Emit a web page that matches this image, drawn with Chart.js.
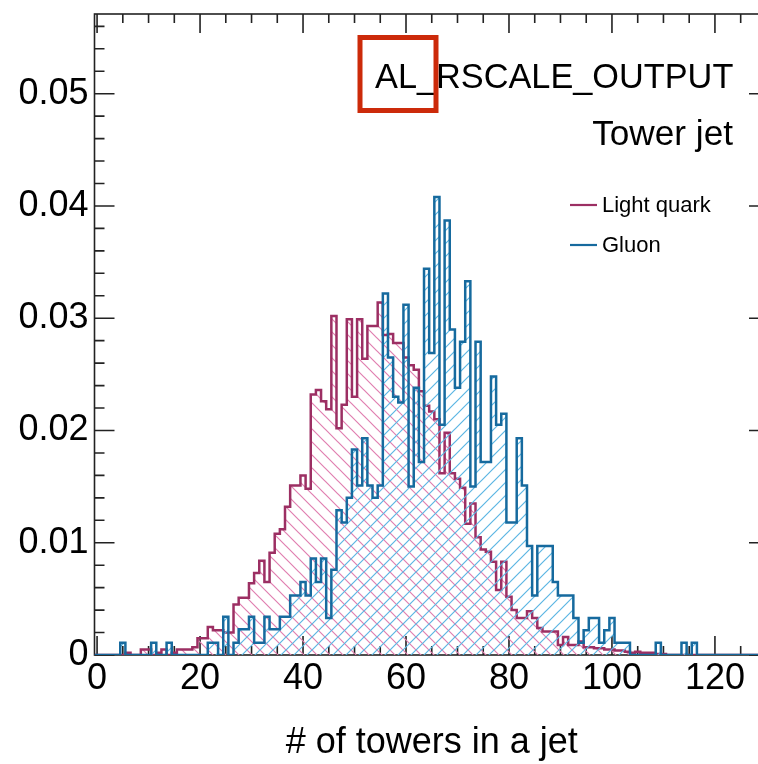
<!DOCTYPE html>
<html>
<head>
<meta charset="utf-8">
<script src="https://cdn.jsdelivr.net/npm/chart.js@4.4.1/dist/chart.umd.min.js"></script>
<style>
  html, body { margin: 0; padding: 0; background: #fff; overflow: hidden; }
  #wrap { width: 772px; height: 764px; }
</style>
</head>
<body>
<div id="wrap"><canvas id="towers" width="772" height="764"></canvas></div>
<script>
// ----- Data (one value per bin, bin k centred on k towers) -----
const lightQuark = [
  0, 0, 0, 0, 0, 0, 0.0002, 0, 0, 0.0005,
  0.0005, 0, 0.0002, 0.0005, 0, 0.0002, 0.0005, 0.0005, 0.0005, 0.0007,
  0.0015, 0.0015, 0.0025, 0.0022, 0.0022, 0.0020, 0.0020, 0.0045, 0.0051, 0.0051,
  0.0064, 0.0073, 0.0084, 0.0065, 0.0091, 0.0108, 0.0112, 0.0132, 0.0151, 0.0151,
  0.0160, 0.0148, 0.0232, 0.0236, 0.0226, 0.0219, 0.0302, 0.0202, 0.0223, 0.0299,
  0.0230, 0.0299, 0.0264, 0.0293, 0.0293, 0.0314, 0.0285, 0.0286, 0.0278, 0.0278,
  0.0265, 0.0258, 0.0254, 0.0235, 0.0222, 0.0217, 0.0210, 0.0162, 0.0198, 0.0162,
  0.0157, 0.0149, 0.0117, 0.0135, 0.0105, 0.0094, 0.0092, 0.0083, 0.0058, 0.0083,
  0.0052, 0.0040, 0.0033, 0.0033, 0.0039, 0.0033, 0.0024, 0.0021, 0.0021, 0.0021,
  0.0009, 0.0016, 0.0009, 0.0009, 0.0012, 0.0007, 0.0007, 0.0006, 0.0006, 0.0005,
  0.0005, 0.0004, 0.0004, 0.0003, 0.0002, 0.0003, 0.0002, 0.0002, 0.0002, 0.0001,
  0.0001, 0, 0, 0, 0, 0, 0, 0, 0, 0,
  0, 0, 0, 0, 0, 0, 0, 0, 0, 0,
  0
];
const gluon = [
  0, 0, 0, 0, 0, 0.0011, 0, 0, 0, 0,
  0, 0.0011, 0, 0, 0.0011, 0, 0, 0, 0, 0,
  0, 0, 0.0011, 0.0011, 0, 0.0034, 0, 0.0011, 0.0023, 0.0023,
  0.0034, 0.0011, 0.0011, 0.0034, 0.0023, 0.0023, 0.0034, 0.0034, 0.0053, 0.0053,
  0.0065, 0.0053, 0.0086, 0.0065, 0.0086, 0.0033, 0.0076, 0.0129, 0.0118, 0.0140,
  0.0183, 0.0151, 0.0193, 0.0151, 0.0140, 0.0151, 0.0322, 0.0265, 0.0230, 0.0225,
  0.0312, 0.0150, 0.0238, 0.0172, 0.0344, 0.0269, 0.0408, 0.0205, 0.0387, 0.0290,
  0.0238, 0.0279, 0.0333, 0.0150, 0.0279, 0.0172, 0.0172, 0.0248, 0.0205, 0.0215,
  0.0118, 0.0118, 0.0193, 0.0151, 0.0097, 0.0053, 0.0097, 0.0097, 0.0097, 0.0065,
  0.0053, 0.0053, 0.0053, 0.0033, 0.0011, 0.0022, 0.0033, 0.0033, 0.0011, 0.0022,
  0.0033, 0.0011, 0.0011, 0.0011, 0, 0, 0, 0, 0, 0.0011,
  0, 0, 0, 0, 0.0011, 0, 0.0011, 0, 0, 0,
  0, 0, 0, 0, 0, 0, 0, 0, 0, 0,
  0
];
const xTicks = [0, 20, 40, 60, 80, 100, 120];
const yTicks = [0, 0.01, 0.02, 0.03, 0.04, 0.05];

const QUARK_LINE = "#9c2f63", QUARK_HATCH = "#e07fb0";
const GLUON_LINE = "#166a9e", GLUON_HATCH = "#5cb6e3";
const FONT = "'Liberation Sans', Arial, Helvetica, sans-serif";

// ----- Helpers -----
const canvas = document.getElementById("towers");
const ctx = canvas.getContext("2d");

// diagonal hatch tile, like ROOT fill styles 3004 / 3005
function hatch(color, dir) {
  const s = 13;
  const tile = document.createElement("canvas");
  tile.width = s; tile.height = s;
  const g = tile.getContext("2d");
  g.strokeStyle = color;
  g.lineWidth = 1.2;
  g.beginPath();
  if (dir === "/") {
    g.moveTo(-2, s + 2); g.lineTo(s + 2, -2);
    g.moveTo(-2, 2); g.lineTo(2, -2);
    g.moveTo(s - 2, s + 2); g.lineTo(s + 2, s - 2);
  } else {
    g.moveTo(-2, -2); g.lineTo(s + 2, s + 2);
    g.moveTo(s - 2, -2); g.lineTo(s + 2, 2);
    g.moveTo(-2, s - 2); g.lineTo(2, s + 2);
  }
  g.stroke();
  return ctx.createPattern(tile, "repeat");
}

// bin k spans k-0.5 .. k+0.5 ; one point per left edge, stepped
const toSteps = (vals) => {
  const pts = vals.map((v, k) => ({ x: k - 0.5, y: v }));
  pts.push({ x: vals.length - 0.5, y: vals[vals.length - 1] });
  return pts;
};

// ----- Frame + inside ticks (ROOT look) -----
const frameTicks = {
  id: "frameTicks",
  beforeDatasetsDraw(chart) {
    const { ctx, chartArea: { left, right, top, bottom }, scales: { x, y } } = chart;
    ctx.save();
    ctx.strokeStyle = "#222";
    ctx.lineWidth = 1.6;
    ctx.strokeRect(left, top, right - left, bottom - top);
    ctx.beginPath();
    for (let v = 0; v <= 130; v += 5) {
      const px = x.getPixelForValue(v);
      const len = v % 20 === 0 ? 19 : 9;
      ctx.moveTo(px, bottom); ctx.lineTo(px, bottom - len);
      ctx.moveTo(px, top); ctx.lineTo(px, top + len);
    }
    for (let i = 0; i <= 28; i++) {
      const py = y.getPixelForValue(i * 0.002);
      const len = i % 5 === 0 ? 20 : 10;
      ctx.moveTo(left, py); ctx.lineTo(left + len, py);
      ctx.moveTo(right, py); ctx.lineTo(right - len, py);
    }
    ctx.stroke();
    ctx.restore();
  }
};

// ----- Labels: run tag, jet type, legend -----
const labelsPlugin = {
  id: "labels",
  afterDraw(chart) {
    const c = chart.ctx;
    c.save();
    c.fillStyle = "#000";
    c.textBaseline = "alphabetic";
    c.font = `34.3px ${FONT}`;
    c.textAlign = "left";
    c.fillText("AL_RSCALE_OUTPUT", 375, 88);
    c.font = `35.2px ${FONT}`;
    c.textAlign = "right";
    c.fillText("Tower jet", 733, 145);

    c.strokeStyle = "#cc2a0a";
    c.lineWidth = 5;
    c.strokeRect(360, 37.5, 76, 73);

    const legend = [
      { label: "Light quark", color: QUARK_LINE, y: 205 },
      { label: "Gluon", color: GLUON_LINE, y: 245 }
    ];
    c.font = `22px ${FONT}`;
    c.textAlign = "left";
    c.textBaseline = "middle";
    legend.forEach((e) => {
      c.strokeStyle = e.color;
      c.lineWidth = 2.2;
      c.beginPath();
      c.moveTo(570, e.y); c.lineTo(597, e.y);
      c.stroke();
      c.fillText(e.label, 602, e.y + 1);
    });
    c.restore();
  }
};

// ----- Chart -----
new Chart(ctx, {
  type: "line",
  data: {
    datasets: [
      {
        label: "Light quark",
        data: toSteps(lightQuark),
        stepped: "before",
        borderColor: QUARK_LINE,
        borderWidth: 2.5,
        backgroundColor: hatch(QUARK_HATCH, "\\"),
        fill: "origin",
        pointRadius: 0,
        order: 1
      },
      {
        label: "Gluon",
        data: toSteps(gluon),
        stepped: "before",
        borderColor: GLUON_LINE,
        borderWidth: 2.5,
        backgroundColor: hatch(GLUON_HATCH, "/"),
        fill: "origin",
        pointRadius: 0,
        order: 0
      }
    ]
  },
  options: {
    responsive: false,
    animation: false,
    devicePixelRatio: 1,
    layout: { padding: { top: 14, right: 3, left: 0, bottom: 0 } },
    plugins: { legend: { display: false }, tooltip: { enabled: false } },
    scales: {
      x: {
        type: "linear",
        min: -0.5,
        max: 130.5,
        grid: { display: false, drawTicks: false },
        border: { display: false },
        afterBuildTicks: (s) => { s.ticks = xTicks.map((v) => ({ value: v })); },
        afterFit: (s) => { s.height = 109; s.paddingLeft = 0; s.paddingRight = 0; },
        ticks: {
          autoSkip: false,
          maxRotation: 0,
          padding: 2,
          color: "#000",
          font: { family: FONT, size: 36 }
        },
        title: {
          display: true,
          text: "# of towers in a jet",
          color: "#000",
          font: { family: FONT, size: 36 },
          padding: { top: 0, bottom: -1 }
        }
      },
      y: {
        type: "linear",
        min: 0,
        max: 0.0571,
        grid: { display: false, drawTicks: false },
        border: { display: false },
        afterBuildTicks: (s) => { s.ticks = yTicks.map((v) => ({ value: v })); },
        afterFit: (s) => { s.width = 94.5; s.paddingTop = 0; s.paddingBottom = 0; },
        ticks: {
          padding: 6,
          color: "#000",
          font: { family: FONT, size: 36 },
          callback: (v) => (v === 0 ? "0" : v.toFixed(2))
        }
      }
    }
  },
  plugins: [frameTicks, labelsPlugin]
});
</script>
</body>
</html>
